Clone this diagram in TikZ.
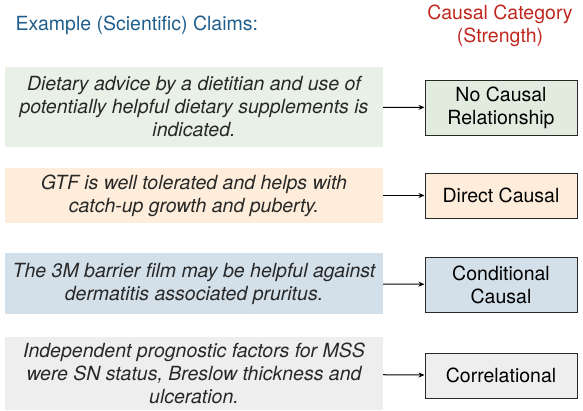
\documentclass[tikz,border=0pt]{standalone}
\usepackage{fontspec}
\setmainfont{TeX Gyre Heros}
\usetikzlibrary{arrows.meta}

\definecolor{titleblue}{RGB}{31,94,140}
\definecolor{titlered}{RGB}{192,40,30}
\definecolor{nocausal}{RGB}{233,241,230}
\definecolor{nocausalbox}{RGB}{225,236,222}
\definecolor{direct}{RGB}{253,237,218}
\definecolor{conditional}{RGB}{211,223,233}
\definecolor{correl}{RGB}{238,238,238}
\definecolor{inkgray}{RGB}{40,40,40}

\tikzset{
  bigfont/.style={font=\fontsize{19.5}{23}\selectfont},
  claimbox/.style={bigfont,align=center,inner sep=0pt,minimum width=378pt,
    text=inkgray,font=\fontsize{19.5}{23}\selectfont\itshape},
  catbox/.style={bigfont,align=center,draw=inkgray,line width=1pt,
    minimum width=152pt,inner sep=0pt,text=black},
}

\begin{document}
\begin{tikzpicture}[x=1pt,y=-1pt]
        \useasboundingbox (0,0) rectangle (583,410);

        \node[bigfont,text=titleblue,anchor=west] (head) at (12,25)
          {Example (Scientific) Claims:};
        \node[bigfont,text=titlered,align=center] (cathead) at (500,26)
          {Causal Category\\(Strength)};

        \begin{scope}[every node/.style={claimbox}]
          \node[fill=nocausal,minimum height=80pt] (claim1) at (194,107)
            {Dietary advice by a dietitian and use of\\potentially helpful dietary supplements is\\indicated.};
          \node[fill=direct,minimum height=55pt] (claim2) at (194,195.5)
            {GTF is well tolerated and helps with\\catch-up growth and puberty.};
          \node[fill=conditional,minimum height=61pt] (claim3) at (194,283.5)
            {The 3M barrier film may be helpful against\\dermatitis associated pruritus.};
          \node[fill=correl,minimum height=73pt] (claim4) at (194,373.5)
            {Independent prognostic factors for MSS\\were SN status, Breslow thickness and\\ulceration.};
        \end{scope}

        \begin{scope}[every node/.style={catbox}]
          \node[fill=nocausalbox,minimum height=55pt] (cat1) at (501,107.5) {No Causal\\Relationship};
          \node[fill=direct,minimum height=45pt] (cat2) at (501,195.5) {Direct Causal};
          \node[fill=conditional,minimum height=55pt] (cat3) at (501,284.5) {Conditional\\Causal};
          \node[fill=correl,minimum height=45pt] (cat4) at (501,375.5) {Correlational};
        \end{scope}

        \begin{scope}[every edge/.style={draw=black,line width=1pt,-{Stealth[length=6pt,width=5pt]}}]
          \path (claim1) edge (cat1);
          \path (claim2) edge (cat2);
          \path (claim3) edge (cat3);
          \path (claim4) edge (cat4);
        \end{scope}

      \end{tikzpicture}
\end{document}
